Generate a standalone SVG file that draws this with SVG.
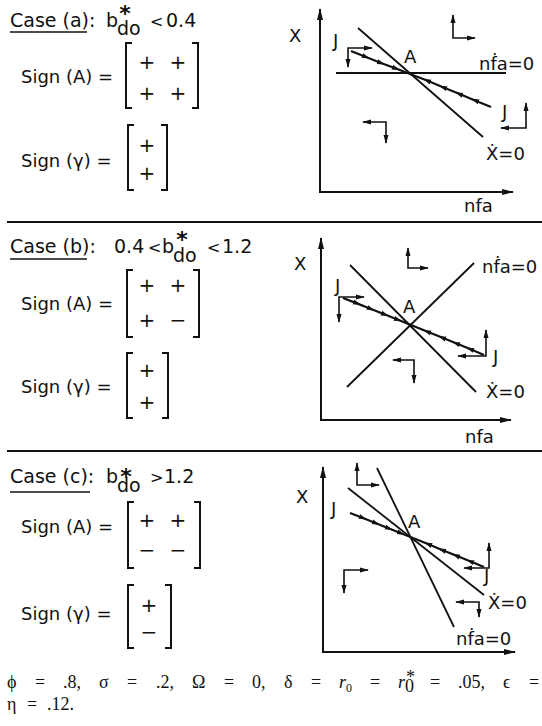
<svg xmlns="http://www.w3.org/2000/svg" width="542" height="726" viewBox="0 0 542 726">
<style>
.t{font-family:"DejaVu Sans","Liberation Sans",sans-serif;font-size:18px;fill:#111}
.cs{font-size:19px}
.sb{font-size:19px}
.lt{font-size:16px}
.m{font-family:"DejaVu Sans","Liberation Sans",sans-serif;font-size:20px;fill:#111;text-anchor:middle}
.ast{font-family:"DejaVu Sans",sans-serif;font-size:22px;font-weight:bold;fill:#111;text-anchor:middle}
.cap{font-family:"Liberation Serif","DejaVu Serif",serif;font-size:18px;fill:#111}
.ln{stroke:#111;stroke-width:1.8;fill:none}
.br{stroke:#111;stroke-width:2;fill:none}
.sep{stroke:#111;stroke-width:2}
.ax{stroke:#111;stroke-width:2;fill:none;marker-start:url(#axh);marker-end:url(#axh)}
.da{stroke:#111;stroke-width:1.6;fill:none;marker-start:url(#dh);marker-end:url(#dh)}
.jp{stroke:#111;stroke-width:2.2;fill:none;marker-mid:url(#jh)}
</style>
<defs>
<marker id="axh" markerUnits="userSpaceOnUse" markerWidth="12" markerHeight="8" refX="11" refY="4" orient="auto-start-reverse"><path d="M0,1 L12,4 L0,7 Z" fill="#111"/></marker>
<marker id="dh" markerUnits="userSpaceOnUse" markerWidth="9" markerHeight="6" refX="8" refY="3" orient="auto-start-reverse"><path d="M0,0.5 L9,3 L0,5.5 Z" fill="#111"/></marker>
<marker id="jh" markerUnits="userSpaceOnUse" markerWidth="8" markerHeight="6" refX="4" refY="3" orient="auto"><path d="M0,0.5 L8,3 L0,5.5 Z" fill="#111"/></marker>
</defs>

<g id="separators">
<line class="sep" x1="7" y1="222" x2="542" y2="222"/>
<line class="sep" x1="7" y1="451" x2="542" y2="451"/>
</g>

<!-- ===== Case (a) ===== -->
<g id="case-a-text">
<text class="t cs" x="10" y="27">Case (a):</text>
<line x1="10" y1="32" x2="87" y2="32" stroke="#111" stroke-width="1.6"/>
<text class="t cs" x="106" y="27">b</text>
<text class="t sb" x="117" y="35">do</text>
<text class="ast" x="125" y="21">*</text>
<text class="t lt" x="150" y="27">&lt;</text>
<text class="t cs" x="166" y="27">0.4</text>
</g>
<g id="case-a-signA">
<text class="t" x="21" y="83">Sign (A) =</text>
<path class="br" d="M132,43 H126 V108 H132 M192,43 H198 V108 H192"/>
<text class="m" x="147" y="69">+</text><text class="m" x="178" y="69">+</text>
<text class="m" x="147" y="100">+</text><text class="m" x="178" y="100">+</text>
</g>
<g id="case-a-signG">
<text class="t" x="21" y="167">Sign (γ) =</text>
<path class="br" d="M134,125 H128 V190 H134 M161,125 H167 V190 H161"/>
<text class="m" x="147" y="152">+</text>
<text class="m" x="147" y="180">+</text>
</g>

<g id="plot-a">
<path class="ax" d="M320,9 V192 H513"/>
<line class="ln" x1="336" y1="73" x2="506" y2="73"/>
<line class="ln" x1="358" y1="28" x2="483" y2="137"/>
<g id="connectors-a">
<path class="jp" d="M351,51 L366,57 L381,63 L396,68.5 L410,74"/>
<path class="jp" d="M491,107 L475,100.4 L459,93.8 L443,87.2 L427,80.6 L410,74"/>
<path class="da" d="M372,48 L348,48 L348,67"/>
<path class="da" d="M453,15 L453,38 L475,38"/>
<path class="da" d="M363,122 L386,122 L386,143"/>
<path class="da" d="M526,103 L526,128 L501,128"/>
</g>
<text class="t" x="289" y="42">X</text>
<text class="t" x="404" y="63">A</text>
<text class="t" x="333" y="47">J</text>
<text class="t" x="502" y="118">J</text>
<text class="t" x="479" y="70">nḟa=0</text>
<text class="t" x="486" y="160">Ẋ=0</text>
<text class="t" x="464" y="212">nfa</text>
</g>

<!-- ===== Case (b) ===== -->
<g id="case-b-text">
<text class="t cs" x="10" y="253">Case (b):</text>
<line x1="10" y1="259" x2="87" y2="259" stroke="#111" stroke-width="1.6"/>
<text class="t cs" x="114" y="253">0.4</text>
<text class="t lt" x="148" y="253">&lt;</text>
<text class="t cs" x="162" y="253">b</text>
<text class="t sb" x="173" y="262">do</text>
<text class="ast" x="182" y="247">*</text>
<text class="t lt" x="207" y="253">&lt;</text>
<text class="t cs" x="222" y="253">1.2</text>
</g>
<g id="case-b-signA">
<text class="t" x="21" y="310">Sign (A) =</text>
<path class="br" d="M133,270 H127 V337 H133 M193,270 H199 V337 H193"/>
<text class="m" x="147" y="292">+</text><text class="m" x="178" y="292">+</text>
<text class="m" x="147" y="327">+</text><text class="m" x="178" y="327">−</text>
</g>
<g id="case-b-signG">
<text class="t" x="21" y="393">Sign (γ) =</text>
<path class="br" d="M133,353 H127 V418 H133 M162,353 H168 V418 H162"/>
<text class="m" x="147" y="377">+</text>
<text class="m" x="147" y="409">+</text>
</g>

<g id="plot-b">
<path class="ax" d="M321,238 V420 H511"/>
<line class="ln" x1="350" y1="265" x2="476" y2="392"/>
<line class="ln" x1="347" y1="387" x2="474" y2="263"/>
<g id="connectors-b">
<path class="jp" d="M343,298 L357,303.4 L371,309 L385,314.6 L398,319.8 L411,325"/>
<path class="jp" d="M484,355 L470,349 L456,343.3 L442,337.6 L427,331.5 L411,325"/>
<path class="da" d="M364,297 L339,297 L339,322"/>
<path class="da" d="M408,248 L408,268 L428,268"/>
<path class="da" d="M393,360 L414,360 L414,383"/>
<path class="da" d="M486,330 L486,356 L458,356"/>
</g>
<text class="t" x="294" y="270">X</text>
<text class="t" x="403" y="313">A</text>
<text class="t" x="335" y="292">J</text>
<text class="t" x="493" y="363">J</text>
<text class="t" x="482" y="273">nḟa=0</text>
<text class="t" x="486" y="398">Ẋ=0</text>
<text class="t" x="465" y="443">nfa</text>
</g>

<!-- ===== Case (c) ===== -->
<g id="case-c-text">
<text class="t cs" x="10" y="483">Case (c):</text>
<line x1="10" y1="492" x2="90" y2="492" stroke="#111" stroke-width="1.6"/>
<text class="t cs" x="106" y="483">b</text>
<text class="t sb" x="117" y="492">do</text>
<text class="ast" x="126" y="484">*</text>
<text class="t lt" x="150" y="483">&gt;</text>
<text class="t cs" x="164" y="483">1.2</text>
</g>
<g id="case-c-signA">
<text class="t" x="21" y="533">Sign (A) =</text>
<path class="br" d="M134,502 H128 V568 H134 M194,502 H200 V568 H194"/>
<text class="m" x="147" y="527">+</text><text class="m" x="178" y="527">+</text>
<text class="m" x="147" y="557">−</text><text class="m" x="178" y="557">−</text>
</g>
<g id="case-c-signG">
<text class="t" x="21" y="620">Sign (γ) =</text>
<path class="br" d="M134,585 H128 V648 H134 M165,585 H171 V648 H165"/>
<text class="m" x="149" y="612">+</text>
<text class="m" x="149" y="639">−</text>
</g>

<g id="plot-c">
<path class="ax" d="M323,467 V652 H515"/>
<line class="ln" x1="348" y1="488" x2="484" y2="595"/>
<line class="ln" x1="377" y1="468" x2="454" y2="627"/>
<g id="connectors-c">
<path class="jp" d="M350,513 L363,518 L376,523.3 L389,528.5 L401,533.2 L413,538"/>
<path class="jp" d="M484,567 L470,561.3 L456,555.6 L442,549.9 L428,544.1 L413,538"/>
<path class="da" d="M357,463 L357,485 L379,485"/>
<path class="da" d="M368,570 L344,570 L344,593"/>
<path class="da" d="M489,543 L489,568 L464,568"/>
<path class="da" d="M456,602 L479,602 L479,617"/>
</g>
<text class="t" x="296" y="503">X</text>
<text class="t" x="408" y="528">A</text>
<text class="t" x="331" y="515">J</text>
<text class="t" x="484" y="582">J</text>
<text class="t" x="488" y="609">Ẋ=0</text>
<text class="t" x="456" y="645">nḟa=0</text>
</g>

<!-- ===== caption ===== -->
<g id="caption">
<text class="cap" x="7" y="688">ϕ</text>
<text class="cap" x="35" y="688">=</text>
<text class="cap" x="63" y="688">.8,</text>
<text class="cap" x="99" y="688">σ</text>
<text class="cap" x="127" y="688">=</text>
<text class="cap" x="156" y="688">.2,</text>
<text class="cap" x="192" y="688">Ω</text>
<text class="cap" x="224" y="688">=</text>
<text class="cap" x="252" y="688">0,</text>
<text class="cap" x="284" y="688">δ</text>
<text class="cap" x="311" y="688">=</text>
<text class="cap" x="339" y="688"><tspan font-style="italic">r</tspan><tspan font-size="12" dy="4">0</tspan></text>
<text class="cap" x="370" y="688">=</text>
<text class="cap" x="398" y="688" font-style="italic">r</text>
<text class="cap" x="406" y="683" font-size="11">*</text>
<text class="cap" x="405" y="692" font-size="12">0</text>
<text class="cap" x="430" y="688">=</text>
<text class="cap" x="458" y="688">.05,</text>
<text class="cap" x="503" y="688">ϵ</text>
<text class="cap" x="529" y="688">=</text>
<text class="cap" x="7" y="710">η</text>
<text class="cap" x="27" y="710">=</text>
<text class="cap" x="47" y="710">.12.</text>
</g>
</svg>
